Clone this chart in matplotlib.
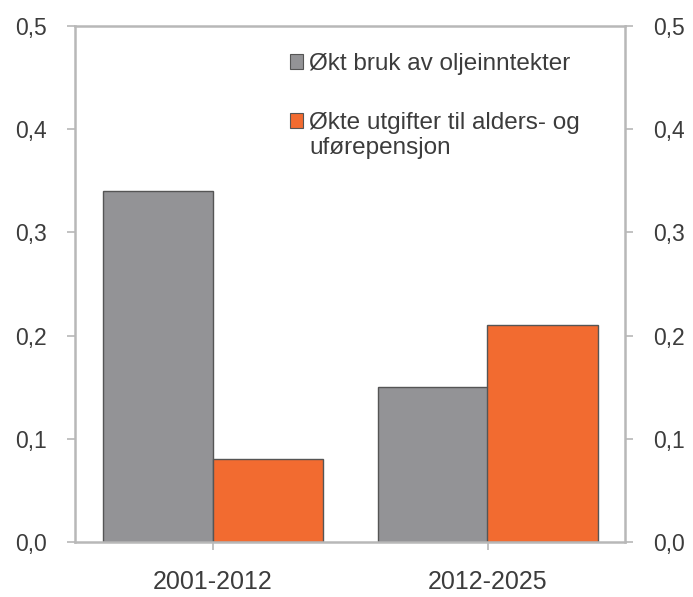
import matplotlib
matplotlib.use("Agg")
import matplotlib.pyplot as plt
import numpy as np
from matplotlib.patches import Patch

categories = ["2001-2012", "2012-2025"]
oil_use = [0.34, 0.15]
pension = [0.08, 0.21]
series_names = ["Økt bruk av oljeinntekter", "Økte utgifter til alders- og"]
series2_cont = "uførepensjon"
yticks = [0.0, 0.1, 0.2, 0.3, 0.4, 0.5]
ytick_labels = ["0,0", "0,1", "0,2", "0,3", "0,4", "0,5"]

plt.rcParams['font.family'] = ['Liberation Sans', 'DejaVu Sans']

fig = plt.figure(figsize=(6.93, 5.97), dpi=100)
ax = fig.add_axes([75/693, 55/597, 550/693, 516/597])

gray = "#939396"
orange = "#F26B30"
spine_c = "#B8B8B8"
text_c = "#3C3C3C"

x = np.arange(len(categories))
w = 0.4
ax.bar(x - w/2, oil_use, w, color=gray, edgecolor="#555555", linewidth=1.0)
ax.bar(x + w/2, pension, w, color=orange, edgecolor="#555555", linewidth=1.0)

ax.set_xlim(-0.5, 1.5)
ax.set_ylim(0, 0.5)
ax.set_yticks(yticks)
ax.set_yticklabels(ytick_labels)
ax.set_xticks(x)
ax.set_xticklabels(categories)

for s in ax.spines.values():
    s.set_color(spine_c)
    s.set_linewidth(1.8)

ax.tick_params(axis='y', which='both', direction='out', length=6, width=1.2, color=spine_c,
               labelsize=16.5, labelcolor=text_c, pad=14, left=True, right=True,
               labelleft=True, labelright=True)
ax.tick_params(axis='x', direction='out', length=6, width=1.2, color=spine_c,
               labelsize=18, labelcolor=text_c, pad=14)

handles = [Patch(facecolor=gray, edgecolor="#555555", linewidth=0.8),
           Patch(facecolor=orange, edgecolor="#555555", linewidth=0.8)]
leg = ax.legend(handles, series_names, loc='upper left', bbox_to_anchor=(0.39, 0.947),
                frameon=False, fontsize=17.5, handlelength=0.55, handleheight=0.55,
                handletextpad=0.25, labelspacing=1.5, borderpad=0, borderaxespad=0,
                labelcolor=text_c)

fig.canvas.draw()
bb = leg.get_texts()[1].get_window_extent()
inv = fig.transFigure.inverted()
x0, y0 = inv.transform((bb.x0, bb.y0))
fig.text(x0, y0 - 25/597, series2_cont, fontsize=17.5, color=text_c,
         ha='left', va='bottom')

fig.savefig("out.png", dpi=100)
